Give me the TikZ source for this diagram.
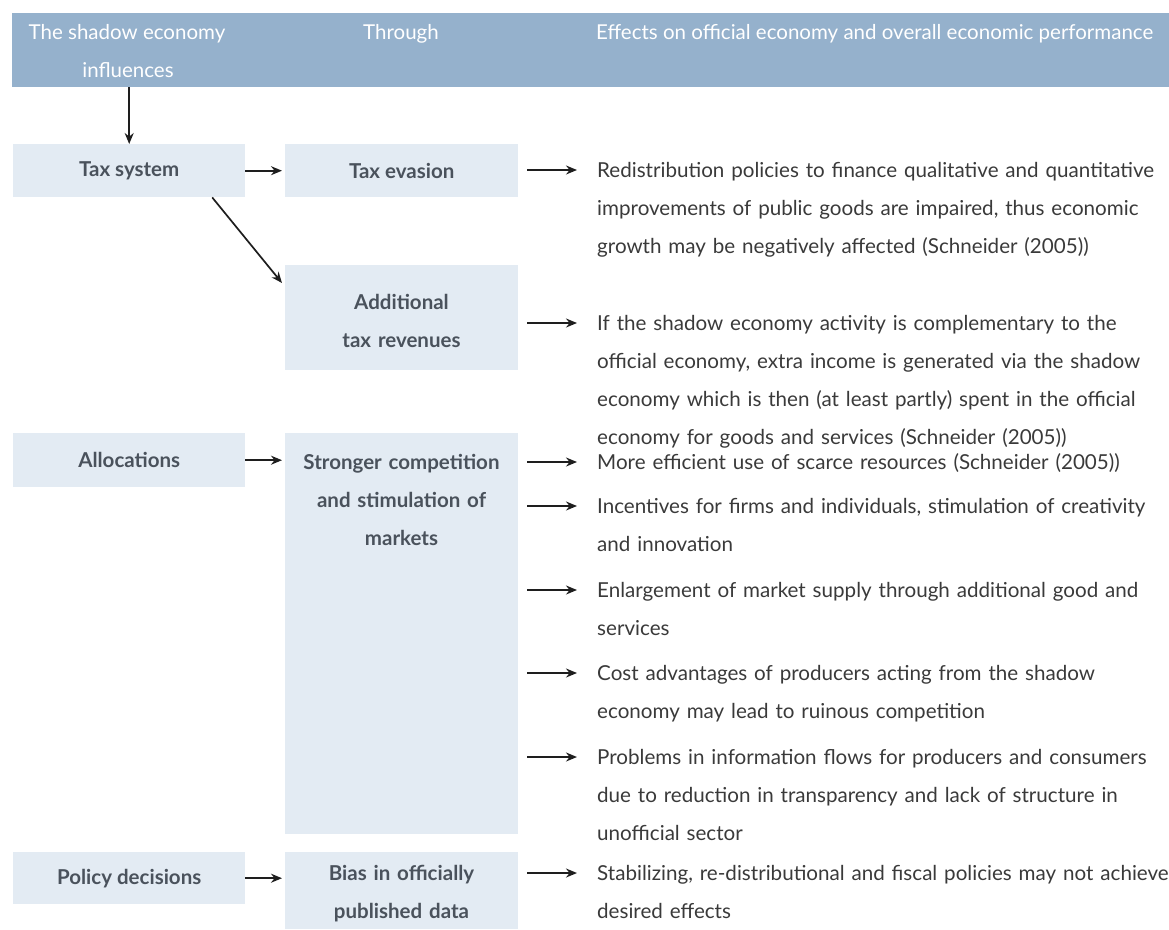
\documentclass[tikz,border=0pt]{standalone}
\usepackage{fontspec}
\setmainfont{Lato}
\usetikzlibrary{arrows.meta,calc}
\definecolor{headblue}{HTML}{95B1CC}
\definecolor{boxfill}{HTML}{E3EBF3}
\definecolor{boxtext}{HTML}{4A525C}
\definecolor{bodytext}{HTML}{3A3A3A}
\definecolor{arrowink}{HTML}{1E1E1E}
\begin{document}
\begin{tikzpicture}[x=1pt,y=-1pt,
  box/.style={fill=boxfill, draw=none, inner sep=0pt, anchor=north west,
    text=boxtext, font=\fontsize{20.5}{38}\selectfont\bfseries, align=center},
  lbox/.style={box, minimum width=232pt},
  mbox/.style={box, minimum width=233pt},
  boxlabel/.style={anchor=base, inner sep=0pt, text width=233pt, align=center,
    text=boxtext, font=\fontsize{20.5}{38}\selectfont\bfseries},
  headtext/.style={text=white, inner sep=0pt, font=\fontsize{20.5}{40}\selectfont},
  effect/.style={anchor=base west, inner sep=0pt, text width=572pt, align=left,
    text=bodytext, font=\fontsize{20.6}{38.2}\selectfont},
  arr/.style={draw=arrowink, line width=1.7pt, -{Stealth[length=11pt,width=9pt]}}
]
\useasboundingbox (0,0) rectangle (1169,929);

% header band with the three column titles
\node[fill=headblue, inner sep=0pt, anchor=north west,
  minimum width=1157pt, minimum height=74pt] (head) at (12,13) {};
\node[headtext, anchor=base] (h1a) at (127,39) {The shadow economy};
\node[headtext, anchor=base] (h1b) at (128,77) {influences};
\node[headtext, anchor=base] (h2) at (401,39) {Through};
\node[headtext, anchor=base west] (h3) at (596,39) {Effects on official economy and overall economic performance};

% left column: what is influenced
\node[lbox, minimum height=53pt] (tax) at (13,144) {Tax system};
\node[lbox, minimum height=54pt] (alloc) at (13,433) {Allocations};
\node[lbox, minimum height=52pt] (pol) at (13,852) {Policy decisions};

% middle column: channels
\node[mbox, minimum height=53pt] (evas) at (285,144) {Tax evasion};
\node[mbox, minimum height=105pt] (addrev) at (285,265) {};
\node[boxlabel] (addrevtext) at (401.5,309) {Additional\\tax revenues};
\node[mbox, minimum height=401pt] (comp) at (285,433) {};
\node[boxlabel] (comptext) at (401.5,469) {Stronger competition\\and stimulation of\\markets};
\node[mbox, minimum height=77pt] (bias) at (285,852) {};
\node[boxlabel] (biastext) at (401.5,880) {Bias in officially\\published data};

% right column: effects
\node[effect] (e1) at (597,177) {Redistribution policies to finance qualitative and quantitative\\improvements of public goods are impaired, thus economic\\growth may be negatively affected (Schneider (2005))};
\node[effect] (e2) at (597,330) {If the shadow economy activity is complementary to the\\official economy, extra income is generated via the shadow\\economy which is then (at least partly) spent in the official\\economy for goods and services (Schneider (2005))};
\node[effect] (e3) at (597,469) {More efficient use of scarce resources (Schneider (2005))};
\node[effect] (e4) at (597,513) {Incentives for firms and individuals, stimulation of creativity\\and innovation};
\node[effect] (e5) at (597,597) {Enlargement of market supply through additional good and\\services};
\node[effect] (e6) at (597,680) {Cost advantages of producers acting from the shadow\\economy may lead to ruinous competition};
\node[effect] (e7) at (597,764) {Problems in information flows for producers and consumers\\due to reduction in transparency and lack of structure in\\unofficial sector};
\node[effect] (e8) at (597,880) {Stabilizing, re-distributional and fiscal policies may not achieve\\desired effects};

% connectors
\draw[arr] (tax.north |- head.south) -- (tax.north);
\draw[arr, shorten >=3pt] (tax.east) -- (evas.west);
\draw[arr] ([xshift=83pt]tax.south) -- ($(addrev.north west)+(-3,18)$);
\draw[arr, shorten >=3pt] (alloc.east) -- (alloc.east -| comp.west);
\draw[arr, shorten >=3pt] (pol.east) -- (pol.east -| bias.west);
\foreach \e in {e1,e2,e3,e4,e5,e6,e7,e8}
  \draw[arr] ($(\e.base west)+(-70,-7)$) -- ($(\e.base west)+(-20,-7)$);
\end{tikzpicture}
\end{document}
